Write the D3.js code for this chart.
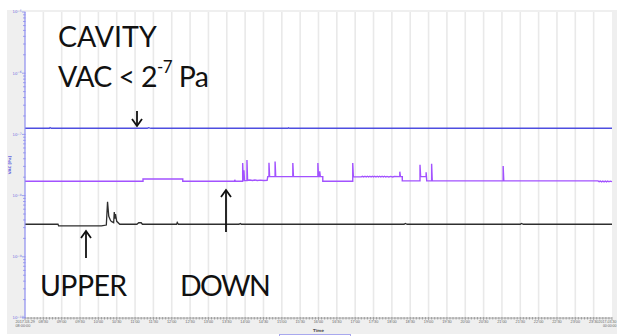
<!DOCTYPE html>
<html>
<head>
<meta charset="utf-8">
<script src="https://cdn.jsdelivr.net/npm/d3@7"></script>
<style>
  html, body { margin: 0; padding: 0; background: #ffffff; }
  svg { display: block; }
</style>
</head>
<body>
<svg id="chart" width="618" height="336"></svg>
<script>
// Vacuum readings, 2017-03-29, times as HH:MM from the start of the day
const cavity = [
  ["08:00", 1.26e-7], ["08:40", 1.26e-7], ["08:41", 1.29e-7], ["08:43", 1.26e-7],
  ["11:20", 1.26e-7], ["11:22", 1.29e-7], ["11:26", 1.26e-7],
  ["15:10", 1.26e-7], ["15:11", 1.28e-7], ["15:13", 1.26e-7],
  ["24:00", 1.26e-7]
];

const down = [
  ["08:00", 1.72e-8], ["11:13", 1.72e-8], ["11:13", 1.87e-8],
  ["12:18", 1.87e-8], ["12:18", 1.72e-8],
  ["13:43", 1.72e-8], ["13:43", 1.82e-8], ["13:44", 1.72e-8],
  ["13:56", 1.72e-8], ["13:56", 3.4e-8], ["13:57", 1.75e-8], ["13:58", 2.6e-8], ["13:59", 1.76e-8],
  ["14:03", 1.76e-8], ["14:03", 3.8e-8], ["14:04", 1.78e-8],
  ["14:08", 1.8e-8], ["14:12", 1.77e-8], ["14:16", 1.8e-8], ["14:20", 1.77e-8],
  ["14:25", 1.79e-8], ["14:30", 1.77e-8], ["14:36", 1.78e-8],
  ["14:37", 2.04e-8], ["14:39", 2.04e-8], ["14:39", 3.45e-8], ["14:40", 2.04e-8],
  ["14:49", 2.04e-8], ["14:49", 3.6e-8], ["14:50", 2.04e-8],
  ["15:18", 2.04e-8], ["15:18", 3.4e-8], ["15:19", 2.04e-8],
  ["15:59", 2.04e-8], ["15:59", 3.4e-8], ["16:00", 2.04e-8],
  ["16:02", 2.04e-8], ["16:02", 2.5e-8], ["16:03", 2.04e-8],
  ["16:07", 2.04e-8], ["16:07", 1.72e-8],
  ["16:56", 1.72e-8], ["16:56", 3.4e-8], ["16:57", 2.04e-8],
  ["17:10", 2.02e-8], ["17:12", 2.07e-8], ["17:14", 2.01e-8], ["17:16", 2.07e-8],
  ["17:18", 2.01e-8], ["17:20", 2.07e-8], ["17:22", 2.01e-8], ["17:24", 2.07e-8],
  ["17:26", 2.01e-8], ["17:28", 2.07e-8], ["17:30", 2.01e-8], ["17:32", 2.07e-8],
  ["17:34", 2.01e-8], ["17:36", 2.07e-8], ["17:38", 2.01e-8], ["17:40", 2.07e-8],
  ["17:42", 2.01e-8], ["17:44", 2.07e-8], ["17:46", 2.01e-8], ["17:48", 2.07e-8],
  ["17:50", 2.01e-8], ["17:52", 2.06e-8], ["17:55", 2.02e-8], ["17:58", 2.06e-8],
  ["18:01", 2.02e-8], ["18:04", 2.05e-8],
  ["18:13", 2.04e-8], ["18:13", 2.46e-8], ["18:14", 2.04e-8],
  ["18:17", 2.04e-8], ["18:17", 1.74e-8],
  ["18:46", 1.74e-8], ["18:46", 3.2e-8], ["18:47", 2.04e-8],
  ["18:56", 2.04e-8], ["18:56", 2.4e-8], ["18:57", 1.74e-8],
  ["19:05", 1.74e-8], ["19:05", 3.3e-8], ["19:06", 1.74e-8],
  ["21:02", 1.74e-8], ["21:02", 3.05e-8], ["21:03", 1.74e-8],
  ["23:37", 1.74e-8], ["23:39", 1.69e-8], ["23:41", 1.73e-8], ["23:43", 1.68e-8],
  ["23:45", 1.73e-8], ["23:47", 1.68e-8], ["23:49", 1.73e-8], ["23:51", 1.68e-8],
  ["23:53", 1.73e-8], ["23:55", 1.68e-8], ["23:57", 1.72e-8], ["24:00", 1.69e-8]
];

const upper = [
  ["08:00", 3.4e-9], ["08:54", 3.4e-9], ["08:55", 3.2e-9],
  ["10:05", 3.2e-9], ["10:13", 3.3e-9], ["10:15", 7.9e-9], ["10:17", 4.6e-9],
  ["10:20", 3.9e-9], ["10:22", 3.75e-9], ["10:25", 3.6e-9], ["10:26", 5.4e-9],
  ["10:27", 4.2e-9], ["10:28", 5.0e-9], ["10:30", 3.8e-9], ["10:35", 3.4e-9],
  ["11:03", 3.4e-9], ["11:06", 3.6e-9], ["11:10", 3.6e-9], ["11:12", 3.4e-9],
  ["12:08", 3.4e-9], ["12:09", 3.65e-9], ["12:11", 3.4e-9],
  ["13:50", 3.4e-9], ["13:52", 3.5e-9], ["13:54", 3.4e-9],
  ["18:20", 3.4e-9], ["18:22", 3.5e-9], ["18:25", 3.4e-9],
  ["21:30", 3.4e-9], ["21:32", 3.5e-9], ["21:35", 3.4e-9],
  ["24:00", 3.4e-9]
];

const yTickExponents = [-10, -9, -8, -7, -6, -5];
const xStartLabel = ["2017-03-29", "08:00:00"];
const xEndLabel = ["2017-03-30", "00:00:00"];

const parseTime = s => {
  const [h, m] = s.split(":").map(Number);
  return new Date(2017, 2, 29, h, m);
};

const svg = d3.select("#chart");
const plot = { left: 25, right: 612, top: 12, bottom: 318 };

// panel background
svg.append("rect").attr("x", 7).attr("y", 10).attr("width", 610).attr("height", 324)
  .attr("fill", "#efefef");
svg.append("rect").attr("x", plot.left).attr("y", plot.top)
  .attr("width", plot.right - plot.left).attr("height", plot.bottom - plot.top)
  .attr("fill", "#ffffff");

const x = d3.scaleTime()
  .domain([parseTime("08:00"), parseTime("24:00")])
  .range([plot.left, plot.right]);
const y = d3.scaleLog()
  .domain([1e-10, 1e-5])
  .range([plot.bottom, plot.top]);

// vertical grid every 30 minutes
const halfHours = d3.timeMinute.every(30).range(x.domain()[0], d3.timeMinute.offset(x.domain()[1], 1));
svg.append("g").selectAll("line").data(halfHours.slice(1, -1)).join("line")
  .attr("x1", d => x(d)).attr("x2", d => x(d))
  .attr("y1", plot.top).attr("y2", plot.bottom)
  .attr("stroke", "#e9e9e9").attr("stroke-width", 1.6);

// series lines
const line = d3.line().x(d => x(parseTime(d[0]))).y(d => y(d[1]));
const series = [
  { data: cavity, color: "#4e4ee0", width: 1.3 },
  { data: down, color: "#a252ff", width: 1.4 },
  { data: upper, color: "#2e2e2e", width: 1.3 }
];
svg.append("g").selectAll("path").data(series).join("path")
  .attr("d", d => line(d.data))
  .attr("fill", "none")
  .attr("stroke", d => d.color)
  .attr("stroke-width", d => d.width)
  .attr("stroke-linejoin", "miter");

// x axis
const xAxis = svg.append("g").attr("transform", `translate(0,${plot.bottom})`);
xAxis.append("line").attr("x1", plot.left).attr("x2", plot.right)
  .attr("stroke", "#9a9a9a").attr("stroke-width", 0.8);
const fiveMin = d3.timeMinute.every(5).range(x.domain()[0], d3.timeMinute.offset(x.domain()[1], 1));
xAxis.selectAll("line.tick").data(fiveMin).join("line").attr("class", "tick")
  .attr("x1", d => x(d)).attr("x2", d => x(d))
  .attr("y1", -1).attr("y2", d => d.getMinutes() % 30 === 0 ? 2.5 : 1.5)
  .attr("stroke", "#8a8a8a").attr("stroke-width", 0.7);
const fmt = d3.timeFormat("%H:%M");
xAxis.selectAll("text.lbl").data(halfHours.slice(1, -1)).join("text").attr("class", "lbl")
  .attr("x", d => x(d)).attr("y", 5)
  .attr("text-anchor", "middle")
  .attr("font-family", "Liberation Sans").attr("font-size", 3.8).attr("fill", "#666")
  .text(d => fmt(d));
const startLbl = xAxis.append("text").attr("y", 5)
  .attr("font-family", "Liberation Sans").attr("font-size", 3.8).attr("fill", "#666");
xStartLabel.forEach((s, i) => startLbl.append("tspan")
  .attr("x", x(x.domain()[0]) - 9.5).attr("dy", i ? 4.4 : 0).text(s));
const endLbl = xAxis.append("text").attr("y", 5).attr("text-anchor", "end")
  .attr("font-family", "Liberation Sans").attr("font-size", 3.5).attr("fill", "#666");
xEndLabel.forEach((s, i) => endLbl.append("tspan")
  .attr("x", 616.5).attr("dy", i ? 4.4 : 0).text(s));
svg.append("text").attr("x", (plot.left + plot.right) / 2).attr("y", 332)
  .attr("text-anchor", "middle").attr("font-family", "DejaVu Sans").attr("font-weight", "bold")
  .attr("font-size", 4).attr("fill", "#555").text("Time");

// legend box peeking at the bottom
svg.append("rect").attr("x", 279.5).attr("y", 334.5).attr("width", 71).attr("height", 8)
  .attr("fill", "#ffffff").attr("stroke", "#a8a8ee").attr("stroke-width", 1);

// y axis (log)
const yAxis = svg.append("g");
yAxis.append("line").attr("x1", plot.left).attr("x2", plot.left)
  .attr("y1", plot.top).attr("y2", plot.bottom)
  .attr("stroke", "#8c8cee").attr("stroke-width", 1.2);
const minor = [];
for (let e = -10; e < -5; e++) for (let k = 2; k <= 9; k++) minor.push(k * Math.pow(10, e));
yAxis.selectAll("line.minor").data(minor).join("line").attr("class", "minor")
  .attr("x1", plot.left - 2).attr("x2", plot.left + 0.5)
  .attr("y1", d => y(d)).attr("y2", d => y(d))
  .attr("stroke", "#8c8cee").attr("stroke-width", 0.8);
yAxis.selectAll("line.major").data(yTickExponents).join("line").attr("class", "major")
  .attr("x1", plot.left - 3).attr("x2", plot.left + 0.5)
  .attr("y1", d => y(Math.pow(10, d))).attr("y2", d => y(Math.pow(10, d)))
  .attr("stroke", "#8c8cee").attr("stroke-width", 0.8);
const yl = yAxis.selectAll("text.yl").data(yTickExponents).join("text").attr("class", "yl")
  .attr("x", 12.5).attr("y", d => y(Math.pow(10, d)) + 1.3)
  .attr("font-family", "DejaVu Sans").attr("font-size", 3.8).attr("fill", "#6a6ae0");
yl.append("tspan").text("10");
yl.append("tspan").attr("dy", -1.2).attr("font-size", 3).text(d => "\u2212" + (-d));
svg.append("text").attr("transform", "translate(11,165) rotate(-90)")
  .attr("text-anchor", "middle").attr("font-family", "DejaVu Sans").attr("font-weight", "bold")
  .attr("font-size", 3.8).attr("fill", "#6a6ae0").text("VAC [Pa]");

// annotations
const ann = svg.append("g").attr("font-family", "Lato").attr("fill", "#111").attr("font-size", 28.5);
ann.append("text").attr("x", 58).attr("y", 47).text("CAVITY");
const vac = ann.append("text").attr("x", 58).attr("y", 87).attr("letter-spacing", -0.6);
vac.append("tspan").text("VAC < 2");
vac.append("tspan").attr("font-size", 17).attr("dy", -14).text("-7");
vac.append("tspan").attr("dy", 14).text(" Pa");
ann.append("text").attr("x", 40).attr("y", 296).attr("letter-spacing", -0.6).text("UPPER");
ann.append("text").attr("x", 180).attr("y", 296).attr("letter-spacing", -1.6).text("DOWN");

const arrows = [
  { x: 137, from: 111, to: 126 },
  { x: 86, from: 258, to: 231 },
  { x: 226, from: 232, to: 190 }
];
const ag = svg.append("g").attr("stroke", "#111").attr("stroke-width", 1.8).attr("fill", "none");
arrows.forEach(a => {
  const dir = a.to > a.from ? -1 : 1;
  ag.append("line").attr("x1", a.x).attr("x2", a.x).attr("y1", a.from).attr("y2", a.to);
  ag.append("polyline").attr("points",
    `${a.x - 5},${a.to + dir * 7} ${a.x},${a.to} ${a.x + 5},${a.to + dir * 7}`);
});
</script>
</body>
</html>
